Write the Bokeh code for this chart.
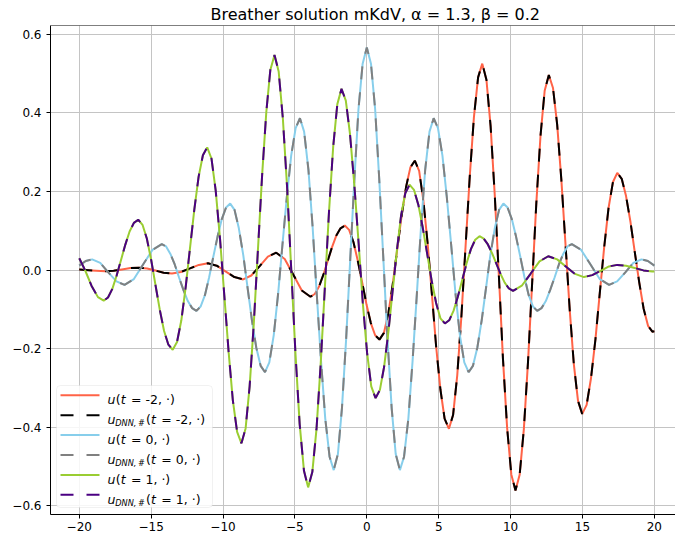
from bokeh.plotting import figure
from bokeh.models import FixedTicker, Span, BoxAnnotation, Label, Range1d
from bokeh.embed import file_html
from bokeh.resources import INLINE

# ---------------- data ----------------
x_tm2 = [-20.0, -19.1, -18.2, -17.61, -17.03, -16.44, -15.85, -15.28, -14.70, -14.13,
         -13.55, -12.93, -12.30, -11.68, -11.05, -10.44, -9.83, -9.21, -8.60, -8.03,
         -7.45, -6.88, -6.30, -5.71, -5.11, -4.52, -3.92, -3.62, -3.32, -3.02,
         -2.72, -2.43, -2.13, -1.83, -1.53, -1.23, -0.93, -0.63, -0.32, -0.02,
         0.28, 0.58, 0.88, 1.19, 1.50, 1.80, 2.11, 2.42, 2.73, 3.03,
         3.34, 3.64, 3.93, 4.23, 4.53, 4.82, 5.12, 5.41, 5.71, 6.00,
         6.29, 6.58, 6.87, 7.16, 7.45, 7.74, 8.03, 8.32, 8.61, 8.90,
         9.19, 9.47, 9.76, 10.05, 10.34, 10.63, 10.92, 11.21, 11.50, 11.79,
         12.08, 12.37, 12.66, 12.95, 13.24, 13.53, 13.82, 14.11, 14.40, 14.69,
         14.98, 15.29, 15.59, 15.90, 16.20, 16.51, 16.81, 17.12, 17.42, 17.73,
         18.03, 18.34, 18.64, 18.95, 19.25, 19.56, 19.86, 20.0]
u_tm2 = [0.001, -0.001, -0.003, -0.002, 0.0015, 0.005, 0.006, 0.004, -0.0015, -0.007,
         -0.009, -0.005, 0.004, 0.013, 0.017, 0.011, -0.0035, -0.018, -0.024, -0.014,
         0.010, 0.034, 0.044, 0.028, -0.012, -0.052, -0.068, -0.061, -0.042, -0.012,
         0.023, 0.057, 0.087, 0.106, 0.113, 0.102, 0.071, 0.024, -0.032, -0.088,
         -0.135, -0.166, -0.177, -0.160, -0.110, -0.037, 0.051, 0.138, 0.211, 0.261,
         0.278, 0.252, 0.178, 0.068, -0.063, -0.194, -0.304, -0.378, -0.404, -0.369,
         -0.268, -0.117, 0.061, 0.238, 0.389, 0.490, 0.525, 0.484, 0.366, 0.190,
         -0.018, -0.226, -0.402, -0.520, -0.561, -0.521, -0.406, -0.235, -0.033, 0.170,
         0.341, 0.456, 0.496, 0.463, 0.370, 0.230, 0.065, -0.100, -0.240, -0.333,
         -0.366, -0.343, -0.276, -0.177, -0.060, 0.058, 0.157, 0.224, 0.247, 0.232,
         0.188, 0.122, 0.045, -0.032, -0.098, -0.142, -0.157, -0.156]

x_t0 = [-20.0, -19.55, -19.1, -18.54, -17.98, -17.41, -16.85, -16.20, -15.56, -14.91,
        -14.26, -13.96, -13.66, -13.36, -13.06, -12.75, -12.45, -12.15, -11.85, -11.56,
        -11.26, -10.97, -10.68, -10.38, -10.09, -9.79, -9.50, -9.20, -8.90, -8.59,
        -8.29, -7.99, -7.69, -7.38, -7.08, -6.78, -6.47, -6.17, -5.87, -5.56,
        -5.26, -4.95, -4.65, -4.36, -4.06, -3.77, -3.48, -3.18, -2.89, -2.59,
        -2.30, -2.01, -1.73, -1.44, -1.15, -0.86, -0.58, -0.29, 0.0,
        0.29, 0.58, 0.86, 1.15, 1.44, 1.73, 2.01, 2.30, 2.59, 2.89,
        3.18, 3.48, 3.77, 4.06, 4.36, 4.65, 4.95, 5.26, 5.56, 5.87,
        6.17, 6.47, 6.78, 7.08, 7.38, 7.69, 7.99, 8.29, 8.59, 8.90,
        9.20, 9.50, 9.79, 10.09, 10.38, 10.68, 10.97, 11.26, 11.56, 11.85,
        12.15, 12.45, 12.75, 13.06, 13.36, 13.66, 13.96, 14.26, 14.91, 15.56,
        16.20, 16.85, 17.41, 17.98, 18.54, 19.1, 19.55, 20.0]
u_t0 = [0.011, 0.023, 0.027, 0.018, -0.006, -0.029, -0.038, -0.023, 0.014, 0.051,
        0.066, 0.060, 0.041, 0.014, -0.019, -0.051, -0.079, -0.097, -0.104, -0.093,
        -0.064, -0.019, 0.033, 0.085, 0.129, 0.159, 0.169, 0.153, 0.106, 0.037,
        -0.046, -0.128, -0.197, -0.244, -0.260, -0.235, -0.165, -0.061, 0.063, 0.187,
        0.291, 0.361, 0.386, 0.352, 0.255, 0.110, -0.062, -0.233, -0.378, -0.475,
        -0.509, -0.468, -0.352, -0.177, 0.029, 0.234, 0.409, 0.525, 0.566,
        0.525, 0.409, 0.234, 0.029, -0.177, -0.352, -0.468, -0.509, -0.475, -0.378,
        -0.233, -0.062, 0.110, 0.255, 0.352, 0.386, 0.361, 0.291, 0.187, 0.063,
        -0.061, -0.165, -0.235, -0.260, -0.244, -0.197, -0.128, -0.046, 0.037, 0.106,
        0.153, 0.169, 0.159, 0.129, 0.085, 0.033, -0.019, -0.064, -0.093, -0.104,
        -0.097, -0.079, -0.051, -0.019, 0.014, 0.041, 0.060, 0.066, 0.051, 0.014,
        -0.023, -0.038, -0.029, -0.006, 0.018, 0.027, 0.023, 0.011]

x_t1 = [-20.0, -19.6, -19.15, -18.7, -18.3, -18.0, -17.7, -17.4, -17.1, -16.8,
        -16.5, -16.2, -15.9, -15.6, -15.3, -15.0, -14.7, -14.4, -14.1, -13.8,
        -13.5, -13.2, -12.9, -12.6, -12.3, -12.0, -11.7, -11.4, -11.1, -10.80,
        -10.51, -10.21, -9.91, -9.61, -9.32, -9.02, -8.72, -8.43, -8.15, -7.86,
        -7.57, -7.28, -6.99, -6.71, -6.42, -6.13, -5.84, -5.54, -5.25, -4.96,
        -4.67, -4.37, -4.08, -3.79, -3.50, -3.21, -2.92, -2.63, -2.34, -2.05,
        -1.76, -1.46, -1.17, -0.87, -0.57, -0.28, 0.02, 0.31, 0.61, 0.91,
        1.20, 1.50, 1.79, 2.09, 2.38, 2.68, 2.97, 3.28, 3.59, 3.89,
        4.20, 4.51, 4.82, 5.12, 5.43, 5.73, 6.03, 6.33, 6.64, 6.94,
        7.24, 7.54, 7.84, 8.13, 8.42, 8.71, 9.01, 9.30, 9.59, 9.88,
        10.17, 10.78, 11.40, 12.01, 12.62, 13.24, 13.86, 14.48, 15.10, 15.68,
        16.26, 16.84, 17.42, 18.03, 18.64, 19.24, 19.85, 20.0]
u_t1 = [0.030, 0.000, -0.040, -0.069, -0.078, -0.070, -0.048, -0.014, 0.025, 0.064,
        0.098, 0.120, 0.128, 0.115, 0.080, 0.026, -0.038, -0.101, -0.155, -0.190,
        -0.203, -0.183, -0.128, -0.044, 0.055, 0.153, 0.237, 0.292, 0.312, 0.283,
        0.202, 0.080, -0.065, -0.209, -0.331, -0.412, -0.441, -0.403, -0.296, -0.136,
        0.053, 0.242, 0.402, 0.509, 0.547, 0.505, 0.386, 0.208, -0.003, -0.214,
        -0.392, -0.511, -0.553, -0.514, -0.405, -0.240, -0.046, 0.148, 0.313, 0.422,
        0.461, 0.431, 0.346, 0.218, 0.068, -0.083, -0.211, -0.296, -0.326, -0.305,
        -0.247, -0.158, -0.055, 0.049, 0.138, 0.196, 0.217, 0.204, 0.165, 0.108,
        0.041, -0.027, -0.084, -0.123, -0.136, -0.128, -0.104, -0.068, -0.025, 0.017,
        0.053, 0.077, 0.086, 0.080, 0.065, 0.043, 0.016, -0.010, -0.032, -0.047,
        -0.053, -0.040, -0.009, 0.022, 0.035, 0.027, 0.0085, -0.010, -0.018, -0.013,
        -0.002, 0.009, 0.013, 0.011, 0.005, -0.001, -0.004, -0.004]

# DNN approximations: indistinguishable from the exact curves in the picture
x_dnn_tm2, u_dnn_tm2 = list(x_tm2), list(u_tm2)
x_dnn_t0, u_dnn_t0 = list(x_t0), list(u_t0)
x_dnn_t1, u_dnn_t1 = list(x_t1), list(u_t1)

x_ticks = [-20, -15, -10, -5, 0, 5, 10, 15, 20]
x_tick_labels = ["\u221220", "\u221215", "\u221210", "\u22125", "0", "5", "10", "15", "20"]
y_ticks = [-0.6, -0.4, -0.2, 0.0, 0.2, 0.4, 0.6]
y_tick_labels = ["\u22120.6", "\u22120.4", "\u22120.2", "0.0", "0.2", "0.4", "0.6"]
title_text = "Breather solution mKdV, \u03b1 =  1.3, \u03b2 =  0.2"
legend_times = ["-2", "-2", "0", "0", "1", "1"]

# ---------------- figure ----------------
FONT = "DejaVu Sans"
W, H = 675, 536
ML, MT, MB = 50, 25, 22
X0, X1 = -22.0, 21.47
Y0, Y1 = -0.622, 0.622
FW, FH = W - ML, H - MT - MB

p = figure(width=W, height=H, x_range=Range1d(X0, X1), y_range=Range1d(Y0, Y1),
           output_backend="svg", toolbar_location=None,
           min_border_left=ML, min_border_right=0, min_border_top=MT, min_border_bottom=MB)
p.outline_line_color = None
p.background_fill_color = "white"
p.border_fill_color = "white"

p.title.text = title_text
p.title.text_font = FONT
p.title.text_font_size = "16px"
p.title.text_font_style = "normal"
p.title.text_color = "black"
p.title.align = "left"
p.title.offset = 160
p.title.standoff = 3

for ax in (p.xaxis[0], p.yaxis[0]):
    ax.axis_line_color = "black"
    ax.axis_line_width = 1
    ax.major_tick_line_color = "black"
    ax.major_tick_out = 4
    ax.major_tick_in = 0
    ax.minor_tick_line_color = None
    ax.major_label_text_font = FONT
    ax.major_label_text_font_size = "12px"
    ax.major_label_text_color = "black"

p.xaxis.ticker = FixedTicker(ticks=x_ticks)
p.xaxis.major_label_overrides = dict(zip(x_ticks, x_tick_labels))
p.xaxis.major_label_standoff = 3
p.yaxis.ticker = FixedTicker(ticks=y_ticks)
p.yaxis.major_label_overrides = dict(zip(y_ticks, y_tick_labels))
p.yaxis.major_label_standoff = 5

p.xgrid.ticker = FixedTicker(ticks=x_ticks)
p.ygrid.ticker = FixedTicker(ticks=y_ticks)
p.grid.grid_line_color = "#c4c4c4"
p.grid.grid_line_width = 1

p.add_layout(Span(location=Y1, dimension="width", line_color="black", line_width=1))

LW = 2
DASH = "13 13"
styles = [("#ff6347", "solid"), ("black", DASH), ("#87ceeb", "solid"),
          ("#808080", DASH), ("#9acd32", "solid"), ("#4b0082", DASH)]
series = [(x_tm2, u_tm2), (x_dnn_tm2, u_dnn_tm2), (x_t0, u_t0),
          (x_dnn_t0, u_dnn_t0), (x_t1, u_t1), (x_dnn_t1, u_dnn_t1)]
for (xs, ys), (col, dash) in zip(series, styles):
    p.line(xs, ys, line_color=col, line_width=LW, line_dash=dash)

# ---------------- legend (drawn by hand for the math labels) ----------------
def dx(px):
    return X0 + px * (X1 - X0) / FW

def dy(py):
    return Y0 + py * (Y1 - Y0) / FH

box = BoxAnnotation(left=6, right=162, bottom=7, top=129,
                    left_units="screen", right_units="screen",
                    bottom_units="screen", top_units="screen",
                    fill_color="white", fill_alpha=0.85,
                    line_color="#d0d0d0", line_width=1, border_radius=4,
                    level="annotation")
p.add_layout(box)

LFS = 12.5
TX = 57
row_y = [119.2, 99.3, 79.4, 59.5, 39.6, 19.7]
for i, ((col, dash), tt) in enumerate(zip(styles, legend_times)):
    yc = row_y[i]
    p.segment(x0=[dx(10)], y0=[dy(yc)], x1=[dx(49)], y1=[dy(yc)],
              line_color=col, line_width=LW, line_dash=dash, level="overlay")
    base = yc - 4.5
    if i % 2 == 0:
        pieces = [("u", 0, "italic", LFS, 0), ("(", 8.2, "normal", LFS, 0),
                  ("t", 13.2, "italic", LFS, 0), ("=", 23.5, "normal", LFS, 0),
                  (tt + ", \u00b7)", 38.0, "normal", LFS, 0)]
    else:
        pieces = [("u", 0, "italic", LFS, 0), ("DNN,\u2009#", 7.8, "italic", 8.2, -3.5),
                  ("(", 38.5, "normal", LFS, 0), ("t", 43.5, "italic", LFS, 0),
                  ("=", 53.8, "normal", LFS, 0), (tt + ", \u00b7)", 68.3, "normal", LFS, 0)]
    for txt, off, style, fs, dyo in pieces:
        p.add_layout(Label(x=TX + off, y=base + dyo, x_units="screen", y_units="screen",
                           text=txt, text_font=FONT, text_font_size=f"{fs}px",
                           text_font_style=style, text_color="black",
                           text_align="left", text_baseline="alphabetic",
                           level="overlay"))

open("out.html", "w").write(file_html(p, INLINE))
